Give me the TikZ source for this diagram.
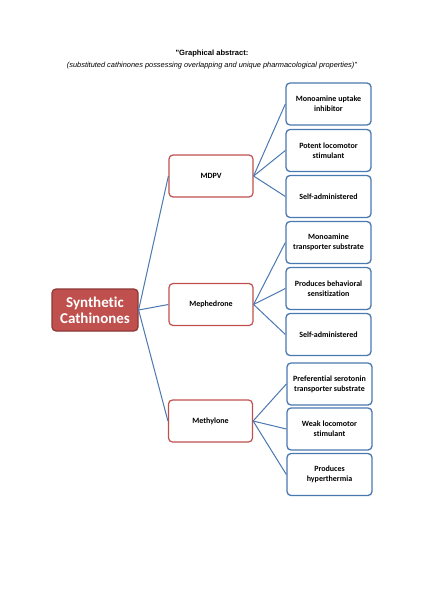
\documentclass[tikz,border=0pt]{standalone}
\usepackage{fontspec}
\setmainfont{Carlito}[Ligatures=NoCommon]
\newfontfamily\arialfont{Liberation Sans}
\definecolor{rootred}{HTML}{C0504D}
\definecolor{rootdark}{HTML}{8C3836}
\definecolor{leafblue}{HTML}{4A78B0}
\definecolor{linkblue}{HTML}{4A78B0}

\begin{document}
\begin{tikzpicture}[x=1pt,y=-1pt]

        \useasboundingbox (0,0) rectangle (424,599);

        % title
        \node (t1) at (212,54) {\arialfont\fontsize{7.6}{9}\selectfont\bfseries "Graphical abstract:};
        \node (t2) at (212,66) {\arialfont\fontsize{7.4}{9}\selectfont\itshape (substituted cathinones possessing overlapping and unique pharmacological properties)"};

        \node (0) at (95,310) [draw=rootdark,fill=rootred,line width=1.2pt,rounded corners=4pt,
            minimum width=86pt,minimum height=42pt,text=white,align=center,inner sep=0pt,
            font=\fontsize{15}{16}\selectfont\bfseries] {Synthetic\\Cathinones};

        \begin{scope}[every node/.style={draw=rootred,fill=white,line width=1.2pt,rounded corners=4pt,
            minimum width=84pt,minimum height=42pt,inner sep=0pt,font=\fontsize{8}{10}\selectfont\bfseries}]
          \node (1) at (211,176)   {MDPV};
          \node (2) at (211,304.5) {Mephedrone};
          \node (3) at (210.5,421) {Methylone};
        \end{scope}

        \begin{scope}[every node/.style={draw=leafblue,fill=white,line width=1.3pt,rounded corners=4pt,
            minimum width=85pt,minimum height=42pt,inner sep=0pt,align=center,font=\fontsize{8}{10}\selectfont\bfseries}]
          \node (11) at (328.5,104)   {Monoamine uptake\\inhibitor};
          \node (12) at (328.5,150.5) {Potent locomotor\\stimulant};
          \node (13) at (328.5,196.5) {Self-administered};
          \node (21) at (328.5,242.5) {Monoamine\\transporter substrate};
          \node (22) at (328.5,288.5) {Produces behavioral\\sensitization};
          \node (23) at (328.5,334.5) {Self-administered};
          \node (31) at (329.5,384)   {Preferential serotonin\\transporter substrate};
          \node (32) at (329.5,429)   {Weak locomotor\\stimulant};
          \node (33) at (329.5,474.5) {Produces\\hyperthermia};
        \end{scope}

        \begin{scope}[every path/.style={draw=linkblue,line width=1pt}]
          \path (0.east) edge (1.west);
          \path (0.east) edge (2.west);
          \path (0.east) edge (3.west);
          \path (1.east) edge (11.west);
          \path (1.east) edge (12.west);
          \path (1.east) edge (13.west);
          \path (2.east) edge (21.west);
          \path (2.east) edge (22.west);
          \path (2.east) edge (23.west);
          \path (3.east) edge (31.west);
          \path (3.east) edge (32.west);
          \path (3.east) edge (33.west);
        \end{scope}

      \end{tikzpicture}
\end{document}
